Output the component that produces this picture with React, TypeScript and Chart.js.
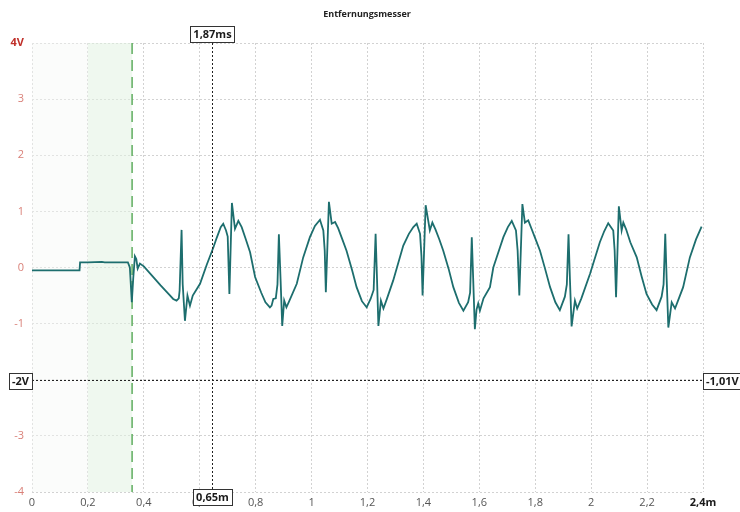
import React, { useEffect, useRef } from "react";
import { Chart, registerables } from "chart.js";

Chart.register(...registerables);

const chartTitle = "Entfernungsmesser";

const distanceM: number[] = [
  0, 0.17, 0.172, 0.2, 0.25, 0.26, 0.3, 0.343, 0.35, 0.357, 0.362, 0.368, 0.373, 0.378, 0.386,
  0.4, 0.43, 0.46, 0.49, 0.505, 0.517, 0.525, 0.528, 0.535, 0.539, 0.547, 0.556, 0.565, 0.575, 0.601,
  0.625, 0.649, 0.66, 0.675, 0.684, 0.694, 0.7, 0.706, 0.715, 0.726, 0.738, 0.75, 0.765, 0.78, 0.798, 0.82,
  0.835, 0.851, 0.857, 0.863, 0.872, 0.878, 0.883, 0.889, 0.895, 0.902, 0.91, 0.92, 0.947, 0.97, 0.994,
  1.012, 1.03, 1.042, 1.047, 1.051, 1.062, 1.072, 1.084, 1.095, 1.11, 1.125, 1.145, 1.161, 1.18, 1.197,
  1.211, 1.222, 1.229, 1.234, 1.239, 1.248, 1.257, 1.27, 1.292, 1.328, 1.348, 1.364, 1.376, 1.388,
  1.393, 1.397, 1.408, 1.423, 1.432, 1.443, 1.457, 1.471, 1.49, 1.507, 1.527, 1.543, 1.56, 1.567,
  1.573, 1.578, 1.584, 1.59, 1.596, 1.602, 1.615, 1.638, 1.65, 1.674, 1.686, 1.702, 1.716, 1.731,
  1.737, 1.743, 1.754, 1.763, 1.775, 1.786, 1.8, 1.817, 1.835, 1.853, 1.872, 1.888, 1.906, 1.913,
  1.919, 1.924, 1.93, 1.942, 1.95, 1.965, 1.996, 2.031, 2.047, 2.061, 2.079, 2.084, 2.089, 2.099,
  2.109, 2.115, 2.125, 2.14, 2.163, 2.18, 2.198, 2.218, 2.234, 2.252, 2.259, 2.265, 2.27, 2.276,
  2.288, 2.3, 2.31, 2.329, 2.353, 2.375, 2.395,
];

const voltageV: number[] = [
  -0.05, -0.05, 0.09, 0.09, 0.1, 0.09, 0.09, 0.09, 0.0, -0.62, -0.2, 0.2, 0.15, -0.02, 0.07,
  0.02, -0.15, -0.32, -0.48, -0.56, -0.59, -0.55, -0.41, 0.67, -0.3, -0.95, -0.5, -0.68, -0.5, -0.29,
  0.05, 0.36, 0.52, 0.72, 0.78, 0.66, 0.55, -0.47, 1.15, 0.69, 0.83, 0.72, 0.5, 0.27, -0.17, -0.45,
  -0.62, -0.71, -0.68, -0.56, -0.55, -0.3, 0.59, -0.2, -1.04, -0.59, -0.71, -0.6, -0.29, 0.18, 0.54,
  0.74, 0.85, 0.66, 0.3, -0.44, 1.17, 0.78, 0.81, 0.7, 0.5, 0.3, -0.05, -0.35, -0.6, -0.71,
  -0.56, -0.4, 0.6, -0.2, -1.04, -0.59, -0.73, -0.55, -0.23, 0.39, 0.6, 0.72, 0.78, 0.6,
  0.2, -0.5, 1.11, 0.66, 0.8, 0.68, 0.5, 0.3, -0.02, -0.35, -0.63, -0.77, -0.62, -0.45,
  0.54, -0.2, -1.1, -0.75, -0.64, -0.77, -0.55, -0.35, 0.0, 0.36, 0.54, 0.72, 0.83, 0.66,
  0.3, -0.5, 1.13, 0.8, 0.84, 0.7, 0.52, 0.3, -0.02, -0.35, -0.62, -0.76, -0.52, -0.3,
  0.59, -0.2, -1.05, -0.59, -0.73, -0.55, -0.11, 0.45, 0.65, 0.79, 0.66, 0.3, -0.53, 1.09,
  0.66, 0.8, 0.68, 0.45, 0.18, -0.15, -0.47, -0.66, -0.76, -0.52, -0.3, 0.6, -0.2, -1.07,
  -0.62, -0.73, -0.6, -0.35, 0.18, 0.5, 0.73,
];

// cursor / marker values
const shadeStart = 0.2;
const triggerX = 0.358;
const cursorX = 0.645;
const cursorY = -2;
const cursorTopLabel = "1,87ms";
const cursorBottomLabel = "0,65m";
const cursorLeftLabel = "-2V";
const cursorRightLabel = "-1,01V";

const FONT = "'Open Sans', 'Noto Sans', sans-serif";

function fmt(v: number): string {
  const r = Math.round(v * 10) / 10;
  return String(r).replace(".", ",");
}

function drawBox(ctx: CanvasRenderingContext2D, text: string, cx: number | null, left: number | null, cy: number, font: string) {
  ctx.save();
  ctx.font = font;
  const w = ctx.measureText(text).width + 6;
  const h = 16;
  const x = cx !== null ? cx - w / 2 : (left as number);
  const y = cy - h / 2;
  ctx.fillStyle = "#ffffff";
  ctx.fillRect(x, y, w, h);
  ctx.strokeStyle = "#333333";
  ctx.lineWidth = 1;
  ctx.strokeRect(Math.round(x) + 0.5, Math.round(y) + 0.5, Math.round(w), h);
  ctx.fillStyle = "#1a1a1a";
  ctx.textAlign = "left";
  ctx.textBaseline = "middle";
  ctx.fillText(text, x + 3, cy + 1);
  ctx.restore();
}

const overlayPlugin = {
  id: "overlay",
  beforeDatasetsDraw(chart: any) {
    const { ctx, chartArea, scales } = chart;
    const xs = scales.x;
    ctx.save();
    ctx.fillStyle = "rgba(246,248,246,0.45)";
    ctx.fillRect(xs.getPixelForValue(0), chartArea.top, xs.getPixelForValue(shadeStart) - xs.getPixelForValue(0), chartArea.bottom - chartArea.top);
    ctx.fillStyle = "rgba(225,242,225,0.55)";
    ctx.fillRect(xs.getPixelForValue(shadeStart), chartArea.top, xs.getPixelForValue(triggerX) - xs.getPixelForValue(shadeStart), chartArea.bottom - chartArea.top);
    const tx = xs.getPixelForValue(triggerX);
    ctx.strokeStyle = "#5fae5f";
    ctx.lineWidth = 1.5;
    ctx.setLineDash([11, 6]);
    ctx.beginPath();
    ctx.moveTo(tx, chartArea.top);
    ctx.lineTo(tx, chartArea.bottom);
    ctx.stroke();
    ctx.restore();
  },
  afterDraw(chart: any) {
    const { ctx, chartArea, scales } = chart;
    const xs = scales.x;
    const ys = scales.y;
    const cx = Math.round(xs.getPixelForValue(cursorX)) + 0.5;
    const cy = Math.round(ys.getPixelForValue(cursorY)) + 0.5;
    ctx.save();
    ctx.strokeStyle = "#222222";
    ctx.lineWidth = 1;
    ctx.setLineDash([2, 2]);
    ctx.beginPath();
    ctx.moveTo(cx, chartArea.top - 4);
    ctx.lineTo(cx, chartArea.bottom);
    ctx.stroke();
    ctx.beginPath();
    ctx.moveTo(chartArea.left, cy);
    ctx.lineTo(chartArea.right, cy);
    ctx.stroke();
    ctx.restore();

    const bold = `bold 11px ${FONT}`;
    drawBox(ctx, cursorTopLabel, cx, null, chartArea.top - 9, bold);
    drawBox(ctx, cursorBottomLabel, cx, null, chartArea.bottom + 5, bold);
    ctx.save();
    ctx.font = bold;
    const lw = ctx.measureText(cursorLeftLabel).width + 6;
    ctx.restore();
    drawBox(ctx, cursorLeftLabel, null, chartArea.left - lw, cy, bold);
    drawBox(ctx, cursorRightLabel, null, chartArea.right, cy, bold);

    ctx.save();
    ctx.font = `bold 9px ${FONT}`;
    ctx.fillStyle = "#222222";
    ctx.textAlign = "center";
    ctx.textBaseline = "middle";
    ctx.fillText(chartTitle, 367, 14);
    ctx.restore();
  },
};

export default function App() {
  const canvasRef = useRef<HTMLCanvasElement | null>(null);

  useEffect(() => {
    if (!canvasRef.current) return;
    const points = distanceM.map((x, i) => ({ x, y: voltageV[i] }));
    const chart = new Chart(canvasRef.current, {
      type: "line",
      data: {
        datasets: [
          {
            data: points,
            borderColor: "#1d6e6e",
            borderWidth: 1.8,
            pointRadius: 0,
            tension: 0,
            fill: false,
          },
        ],
      },
      options: {
        animation: false,
        responsive: true,
        maintainAspectRatio: false,
        layout: { padding: { left: 0, right: 37, top: 43, bottom: 0 } },
        plugins: {
          legend: { display: false },
          tooltip: { enabled: false },
          title: { display: false },
        },
        scales: {
          x: {
            type: "linear",
            min: 0,
            max: 2.4,
            afterFit: (s: any) => {
              s.height = 20;
            },
            ticks: {
              stepSize: 0.2,
              padding: 4,
              maxRotation: 0,
              autoSkip: false,
              callback: (v: any) => (Math.abs(v - 2.4) < 1e-6 ? "2,4m" : fmt(Number(v))),
              color: (c: any) => (c.tick && Math.abs(c.tick.value - 2.4) < 1e-6 ? "#1a1a1a" : "#555555"),
              font: (c: any) => ({
                family: FONT,
                size: 11,
                weight: c.tick && Math.abs(c.tick.value - 2.4) < 1e-6 ? "bold" : "normal",
              }),
            },
            grid: { color: "#d2d2d2", lineWidth: 1, drawTicks: false },
            border: { display: false, dash: [2, 2] },
          },
          y: {
            min: -4,
            max: 4,
            afterFit: (s: any) => {
              s.width = 32;
            },
            ticks: {
              stepSize: 1,
              padding: 8,
              callback: (v: any) => {
                const n = Math.round(Number(v));
                if (n === 4) return "4V";
                if (n === -2) return "";
                return String(n);
              },
              color: (c: any) => (c.tick && Math.round(c.tick.value) === 4 ? "#c0302a" : "#d98078"),
              font: (c: any) => ({
                family: FONT,
                size: 11,
                weight: c.tick && Math.round(c.tick.value) === 4 ? "bold" : "normal",
              }),
            },
            grid: { color: "#d2d2d2", lineWidth: 1, drawTicks: false },
            border: { display: false, dash: [2, 2] },
          },
        },
      },
      plugins: [overlayPlugin],
    } as any);
    return () => chart.destroy();
  }, []);

  return (
    <div style={{ position: "fixed", left: 0, top: 0, width: 740, height: 512, background: "#ffffff" }}>
      <canvas ref={canvasRef} />
    </div>
  );
}
